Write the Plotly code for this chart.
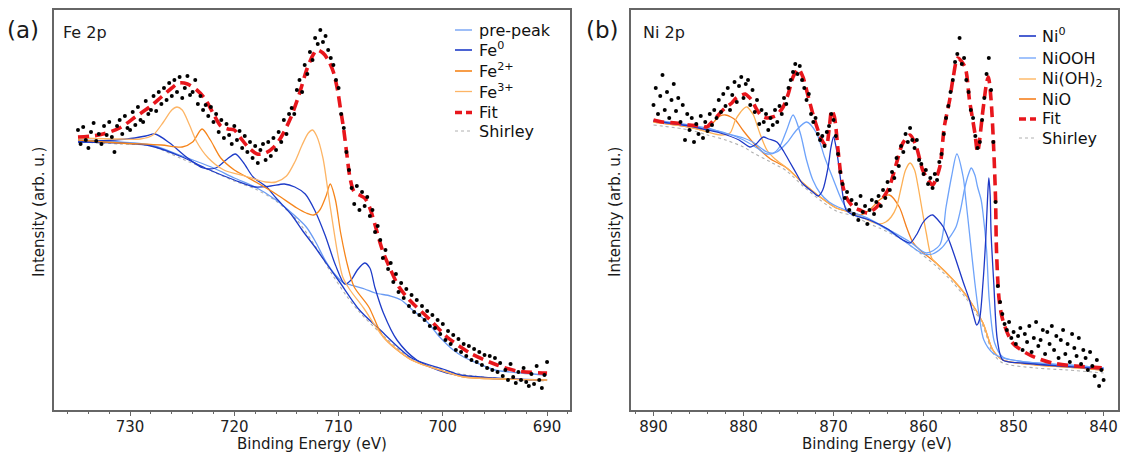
import plotly.graph_objects as go

# ---------------- Fe 2p (panel a) ----------------
fe_energy = [
    735.0, 734.75, 734.5, 734.25, 734.0, 733.75, 733.5, 733.25, 733.0, 732.75, 732.5, 732.25,
    732.0, 731.75, 731.5, 731.25, 731.0, 730.75, 730.5, 730.25, 730.0, 729.75, 729.5, 729.25,
    729.0, 728.75, 728.5, 728.25, 728.0, 727.75, 727.5, 727.25, 727.0, 726.75, 726.5, 726.25,
    726.0, 725.75, 725.5, 725.25, 725.0, 724.75, 724.5, 724.25, 724.0, 723.75, 723.5, 723.25,
    723.0, 722.75, 722.5, 722.25, 722.0, 721.75, 721.5, 721.25, 721.0, 720.75, 720.5, 720.25,
    720.0, 719.75, 719.5, 719.25, 719.0, 718.75, 718.5, 718.25, 718.0, 717.75, 717.5, 717.25,
    717.0, 716.75, 716.5, 716.25, 716.0, 715.75, 715.5, 715.25, 715.0, 714.75, 714.5, 714.25,
    714.0, 713.75, 713.5, 713.25, 713.0, 712.75, 712.5, 712.25, 712.0, 711.75, 711.5, 711.25,
    711.0, 710.75, 710.5, 710.25, 710.0, 709.75, 709.5, 709.25, 709.0, 708.75, 708.5, 708.25,
    708.0, 707.75, 707.5, 707.25, 707.0, 706.75, 706.5, 706.25, 706.0, 705.75, 705.5, 705.25,
    705.0, 704.75, 704.5, 704.25, 704.0, 703.75, 703.5, 703.25, 703.0, 702.75, 702.5, 702.25,
    702.0, 701.75, 701.5, 701.25, 701.0, 700.75, 700.5, 700.25, 700.0, 699.75, 699.5, 699.25,
    699.0, 698.75, 698.5, 698.25, 698.0, 697.75, 697.5, 697.25, 697.0, 696.75, 696.5, 696.25,
    696.0, 695.75, 695.5, 695.25, 695.0, 694.75, 694.5, 694.25, 694.0, 693.75, 693.5, 693.25,
    693.0, 692.75, 692.5, 692.25, 692.0, 691.75, 691.5, 691.25, 691.0, 690.75, 690.5, 690.25,
    690.0,
]
fe_counts = [
    280, 266, 283, 270, 262, 278, 287, 269, 276, 266, 284, 275,
    288, 273, 258, 284, 290, 276, 294, 282, 280, 298, 285, 303,
    290, 288, 309, 296, 300, 314, 299, 318, 306, 322, 310, 327,
    314, 330, 318, 333, 312, 322, 334, 315, 318, 330, 306, 314,
    300, 305, 294, 303, 288, 296, 278, 290, 272, 286, 275, 266,
    284, 270, 279, 262, 274, 258, 268, 252, 264, 247, 260, 266,
    250, 268, 254, 272, 260, 278, 268, 290, 276, 296, 302, 296,
    320, 330, 318, 345, 336, 358, 350, 372, 366, 380, 368, 374,
    360, 352, 345, 330, 322, 296, 282, 258, 240, 222, 206, 224,
    200, 218, 204, 213, 194, 200, 178, 184, 170, 152, 160, 141,
    147, 128, 136, 118, 127, 112, 121, 104, 115, 98, 110, 95,
    104, 90, 99, 84, 95, 82, 90, 76, 86, 70, 79, 66,
    75, 60, 71, 58, 66, 54, 64, 50, 61, 48, 58, 45,
    55, 42, 54, 40, 52, 38, 47, 34, 40, 30, 46, 33,
    27, 38, 30, 42, 28, 24, 36, 26, 44, 30, 22, 35,
    48,
]

fe_fit_e = [735, 733, 731, 729.5, 728, 727, 726, 725.3, 724.5, 723.6, 722.8, 722, 721.3, 720.6,
            720, 719.4, 718.6, 717.8, 717, 716.2, 715.5, 714.6, 713.8, 713, 712.4, 712.1, 711.5,
            711, 710.5, 710.1, 709.8, 709.5, 709.2, 708.9, 708.5, 708, 707.5, 707, 706.5, 705.8,
            705, 704.2, 703.2, 701.2, 699.6, 697.4, 694.8, 692.9, 690]
fe_fit_v = [273, 275, 282, 293, 304, 313, 322, 327, 326, 320, 311, 296, 284, 281,
            280, 272, 262, 256, 257, 263, 273, 292, 315, 342, 356, 360, 357,
            350, 338, 320, 300, 280, 255, 232, 218, 215, 212, 202, 185, 160,
            140, 123, 110, 90, 73, 57, 45, 39, 37]

fe_shirley_e = [735, 731, 728, 725, 722, 720, 718, 716, 714, 712, 710.7, 709.3, 708, 706, 703,
                700, 697, 694, 690]
fe_shirley_v = [268, 266, 264, 251, 238, 229, 221, 209, 190, 160, 137, 115, 98, 77, 51,
                40, 34, 31, 29]

prepeak_e = [735, 731, 728, 725, 722, 720, 718, 716, 714.5, 713.1, 712.2, 711.3, 710.3, 709.5,
             708.8, 707.5, 706.5, 705, 704, 702.9, 701.5, 700.3, 699, 698, 696.5, 695, 692.5, 690]
prepeak_v = [270, 268, 265, 254, 242, 232, 223, 210, 197, 183, 168, 150, 135, 127,
             125, 121, 117, 114, 110, 100, 88, 73, 60, 53, 46, 40, 37, 35]

fe0_a_e = [735, 730.3, 728.5, 727.6, 726.2, 724.6, 723, 721.8, 720.8, 719.9, 719.1, 718.2, 716.9,
           716, 714.5, 713.5, 712.2, 711.2, 709.9, 708, 706, 703, 700, 698, 694, 690]
fe0_a_v = [268, 271, 274, 276, 267, 253, 242, 242, 250, 256, 247, 233, 223,
           212, 195, 180, 162, 147, 128, 100, 80, 52, 41, 34, 31, 30]

fe0_b_e = [735, 731, 728, 725, 722.8, 720, 718, 716.5, 715.2, 714.2, 713.2, 712.3, 711.3, 710.3,
           709.4, 708.8, 708.2, 707.5, 707, 706.5, 705.7, 704.4, 702.5, 699.6, 695, 690]
fe0_b_v = [268, 267, 264, 253, 242, 230, 223, 224, 226, 223, 216, 200, 175, 145,
           126, 130, 140, 147, 142, 122, 97, 70, 50, 37, 32, 30]

fe2_e = [735, 731, 727, 725, 724, 723.1, 722.3, 721.3, 720, 718.8, 716, 714, 713.1, 712.4,
         711.8, 711.2, 710.8, 710.3, 709.8, 709.1, 708.5, 707.1, 705.7, 703, 700, 698, 694, 690]
fe2_v = [270, 267, 265, 263, 268, 281, 270, 252, 240, 233, 216, 202, 197, 195,
         200, 214, 226, 210, 177, 143, 123, 103, 73, 50, 39, 33, 31, 30]

fe3_e = [735, 731, 729, 727.8, 726.8, 726, 725.5, 725, 724.3, 723.6, 722.5, 721, 719, 717, 716,
         715, 714.2, 713.5, 712.9, 712.5, 712.1, 711.5, 710.9, 710.1, 709.6, 708.9, 707.6, 705.7,
         703, 700, 698, 694, 690]
fe3_v = [272, 271, 271, 275, 288, 300, 303, 300, 285, 268, 252, 240, 234, 228, 228,
         234, 248, 265, 277, 280, 274, 252, 210, 157, 133, 120, 102, 73,
         50, 39, 33, 31, 30]

# ---------------- Ni 2p (panel b) ----------------
ni_energy = [
    890.0, 889.75, 889.5, 889.25, 889.0, 888.75, 888.5, 888.25, 888.0, 887.75, 887.5, 887.25,
    887.0, 886.75, 886.5, 886.25, 886.0, 885.75, 885.5, 885.25, 885.0, 884.75, 884.5, 884.25,
    884.0, 883.75, 883.5, 883.25, 883.0, 882.75, 882.5, 882.25, 882.0, 881.75, 881.5, 881.25,
    881.0, 880.75, 880.5, 880.25, 880.0, 879.75, 879.5, 879.25, 879.0, 878.75, 878.5, 878.25,
    878.0, 877.75, 877.5, 877.25, 877.0, 876.75, 876.5, 876.25, 876.0, 875.75, 875.5, 875.25,
    875.0, 874.75, 874.5, 874.25, 874.0, 873.75, 873.5, 873.25, 873.0, 872.75, 872.5, 872.25,
    872.0, 871.75, 871.5, 871.25, 871.0, 870.75, 870.5, 870.25, 870.0, 869.75, 869.5, 869.25,
    869.0, 868.75, 868.5, 868.25, 868.0, 867.75, 867.5, 867.25, 867.0, 866.75, 866.5, 866.25,
    866.0, 865.75, 865.5, 865.25, 865.0, 864.75, 864.5, 864.25, 864.0, 863.75, 863.5, 863.25,
    863.0, 862.75, 862.5, 862.25, 862.0, 861.75, 861.5, 861.25, 861.0, 860.75, 860.5, 860.25,
    860.0, 859.75, 859.5, 859.25, 859.0, 858.75, 858.5, 858.25, 858.0, 857.75, 857.5, 857.25,
    857.0, 856.75, 856.5, 856.25, 856.0, 855.75, 855.5, 855.25, 855.0, 854.75, 854.5, 854.25,
    854.0, 853.75, 853.5, 853.25, 853.0, 852.75, 852.5, 852.25, 852.0, 851.75, 851.5, 851.25,
    851.0, 850.75, 850.5, 850.25, 850.0, 849.75, 849.5, 849.25, 849.0, 848.75, 848.5, 848.25,
    848.0, 847.75, 847.5, 847.25, 847.0, 846.75, 846.5, 846.25, 846.0, 845.75, 845.5, 845.25,
    845.0, 844.75, 844.5, 844.25, 844.0, 843.75, 843.5, 843.25, 843.0, 842.75, 842.5, 842.25,
    842.0, 841.75, 841.5, 841.25, 841.0, 840.75, 840.5, 840.25, 840.0,
]
ni_counts = [
    305, 322, 296, 314, 335, 300, 318, 292, 310, 326, 299, 312,
    288, 305, 270, 296, 280, 292, 268, 286, 276, 294, 272, 288,
    279, 296, 285, 300, 292, 310, 298, 316, 304, 322, 300, 315,
    328, 308, 324, 333, 312, 326, 330, 305, 320, 298, 310, 286,
    300, 288, 296, 280, 292, 285, 300, 288, 304, 296, 312, 306,
    322, 330, 338, 346, 336, 344, 330, 322, 310, 316, 296, 288,
    292, 276, 270, 274, 264, 278, 284, 296, 290, 274, 256, 238,
    226, 212, 218, 200, 210, 196, 206, 190, 214, 198, 204, 186,
    200, 210, 196, 208, 214, 204, 220, 212, 228, 220, 238, 232,
    252, 244, 264, 258, 276, 268, 282, 270, 262, 270, 250, 246,
    236, 240, 226, 232, 222, 236, 230, 248, 256, 276, 292, 304,
    318, 330, 348, 356, 372, 346, 352, 330, 318, 300, 292, 274,
    262, 268, 290, 312, 336, 352, 320, 268, 208, 124, 108, 96,
    86, 80, 88, 72, 78, 66, 74, 82, 60, 76, 68, 84,
    58, 72, 88, 64, 70, 80, 56, 78, 66, 84, 60, 74,
    52, 70, 80, 56, 66, 48, 76, 62, 54, 72, 46, 60,
    52, 40, 58, 44, 34, 50, 24, 40, 30,
]

ni_fit_e = [890, 889, 887.5, 886, 884.6, 884.1, 883.5, 883, 882.4, 881.9, 881.3, 880.8, 880.2,
            879.8, 879.4, 879.1, 878.5, 878, 877.4, 876.8, 876.3, 875.6, 875, 874.5, 873.9,
            873.4, 872.8, 872.1, 871.3, 870.8, 870.5, 870.2, 869.9, 869.5, 869.1, 868.6, 867.8,
            867.1, 866.2, 865.2, 864.5, 863.8, 863, 862.3, 861.5, 860.8, 860.1, 859.5, 859,
            858.2, 857.7, 857.1, 856.7, 856.2, 855.4, 854.9, 854.3, 854, 853.4, 853, 852.8,
            852.5, 852.2, 852, 851.9, 851.6, 851.2, 850.1, 848.2, 845.7, 843.1, 840]
ni_fit_v = [290, 288, 287, 285, 284, 283, 288, 293, 299, 303, 307, 312, 315,
            316, 313, 310, 300, 294, 292, 293, 295, 303, 317, 333, 341,
            333, 313, 290, 270, 264, 280, 300, 293, 260, 230, 213, 203,
            200, 197, 203, 212, 223, 247, 267, 275, 263, 240, 230, 225,
            243, 283, 310, 333, 352, 343, 310, 277, 258, 300, 327, 333,
            310, 260, 210, 160, 110, 90, 67, 55, 47, 44, 42]

ni_shirley_e = [890, 886, 884, 882, 880, 878.9, 877, 875.2, 873.4, 871.5, 869.7, 867.8, 866,
                864.9, 862.5, 860.4, 858.6, 856.7, 854.9, 853.4, 852.3, 851.2, 847.5, 844, 840]
ni_shirley_v = [285, 280, 275, 270, 263, 257, 248, 239, 224, 210, 199, 194, 186,
                182, 171, 157, 144, 127, 107, 84, 57, 47, 42, 40, 37]

ni0_e = [890, 886, 884, 882.6, 880.5, 879.3, 878.6, 878.2, 877.8, 877.2, 876.3, 875.5, 874.8,
         874.1, 873.5, 872.3, 871.7, 871.2, 870.6, 870.3, 870.0, 869.7, 869.5, 869.1, 868.6,
         867.8, 866, 864, 862.3, 861.5, 860.8, 860.1, 859.5, 859.0, 858.4, 857.8, 857.1, 856.4,
         855.6, 854.9, 854.4, 854.1, 853.8, 853.4, 853.1, 852.9, 852.75, 852.6, 852.5, 852.2,
         851.8, 851.2, 849, 845, 840]
ni0_v = [289, 284, 280, 277, 270, 263, 266, 270, 273, 271, 268, 258, 247,
         236, 227, 218, 214, 220, 243, 262, 273, 262, 250, 223, 200,
         195, 190, 181, 170, 167, 175, 187, 193, 195, 190, 183, 168, 150,
         128, 110, 93, 85, 90, 127, 170, 210, 232, 215, 177, 127,
         70, 50, 47, 44, 41]

niooh_a_e = [890, 886, 884, 882.6, 880, 879, 877.4, 876.7, 876.0, 875.2, 874.5, 873.7, 873.0,
             872.3, 871.5, 870.5, 869.5, 868, 866, 863.8, 861.5, 859.7, 858.2, 857.5, 856.9,
             856.3, 855.6, 855.3, 854.9, 854.3, 853.8, 853.3, 852.3, 851.2, 847.5, 844, 840]
niooh_a_v = [290, 285, 282, 278, 272, 268, 258, 257, 263, 280, 295, 277, 250,
             230, 217, 208, 203, 198, 191, 180, 168, 157, 165, 203, 233,
             256, 233, 210, 177, 127, 93, 70, 57, 52, 47, 45, 42]

niooh_b_e = [890, 886, 884, 882, 880, 878.5, 877.4, 876.3, 875.2, 874.1, 873.0, 871.9, 871.0,
             870.0, 869.1, 868.2, 867, 866, 864, 862, 860, 859, 858, 857.3, 856.4, 855.9, 855.4,
             855.0, 854.7, 854.3, 854.0, 853.6, 853.4, 853.0, 852.7, 852.1, 851.2, 847.5, 844, 840]
niooh_b_v = [289, 284, 281, 277, 270, 262, 256, 258, 267, 280, 288, 277, 253,
             230, 210, 197, 193, 190, 180, 168, 156, 156, 162, 170, 183, 200, 223,
             236, 242, 235, 223, 210, 197, 160, 110, 67, 53, 47, 45, 42]

nioh_e = [890, 886, 884, 882.5, 881.5, 880.9, 880.4, 879.9, 879.6, 879.2, 878.9, 878.5, 878.2,
          877.4, 876.5, 875.2, 873.4, 871.5, 869.7, 867.8, 866, 864.9, 864.2, 863.6, 863.0,
          862.5, 862.0, 861.5, 861.0, 860.6, 860.1, 859.7, 859.1, 858.6, 856.7, 854.9, 853.4,
          852.3, 851.2, 847.5, 844, 840]
nioh_v = [288, 283, 278, 275, 277, 290, 297, 302, 303, 299, 295, 285, 277,
          260, 251, 242, 227, 213, 202, 197, 189, 186, 188, 193, 203,
          222, 240, 247, 240, 223, 197, 177, 152, 147, 130, 110, 87,
          60, 50, 45, 43, 40]

nio_e = [890, 886, 884.5, 883.8, 883.2, 882.6, 882.0, 881.4, 880.9, 880.0, 878.9, 877.8, 877,
         875.2, 873.4, 871.5, 869.7, 867.8, 867.0, 866.0, 864.9, 863.8, 862.7, 861.9, 861.2,
         860.4, 858.6, 856.7, 854.9, 853.4, 852.3, 851.2, 847.5, 844, 840]
nio_v = [288, 283, 280, 283, 289, 294, 295, 293, 290, 279, 267, 257, 251,
         242, 227, 213, 202, 197, 195, 200, 210, 215, 203, 183, 168,
         160, 147, 130, 110, 87, 60, 50, 45, 43, 40]

# legend labels (top to bottom)
fe_legend = ["pre-peak", "Fe<sup>0</sup>", "Fe<sup>2+</sup>", "Fe<sup>3+</sup>", "Fit", "Shirley"]
ni_legend = ["Ni<sup>0</sup>", "NiOOH", "Ni(OH)<sub>2</sub>", "NiO", "Fit", "Shirley"]

# colours
C_PRE = "#6A9BF3"
C_FE0 = "#1E3CC8"
C_FE2 = "#F6851B"
C_FE3 = "#FDB566"
C_FIT = "#E8161C"
C_SHIR = "#B0B0B0"
C_NI0 = "#1E38C6"
C_NIOOH = "#6EA3FA"
C_NIOH = "#FDB055"
C_NIO = "#F5801F"

W, H = 1121, 453


def px_x(px):
    return px / W


def px_y(py):
    # plot area spans 10..410 px from the top
    return (410 - py) / 400


fig = go.Figure()


def add_curve(x, y, color, panel, width=1.3, dash=None):
    xa, ya = ("x", "y") if panel == 1 else ("x2", "y2")
    fig.add_trace(go.Scatter(
        x=x, y=y, mode="lines", xaxis=xa, yaxis=ya, showlegend=False, hoverinfo="skip",
        line=dict(color=color, width=width, dash=dash, shape="spline", smoothing=0.8),
    ))


FIT_DASH = "11px,6px"

# panel a
add_curve(fe_shirley_e, fe_shirley_v, C_SHIR, 1, width=1.1, dash="dot")
add_curve(prepeak_e, prepeak_v, C_PRE, 1)
add_curve(fe0_a_e, fe0_a_v, C_FE0, 1)
add_curve(fe0_b_e, fe0_b_v, C_FE0, 1)
add_curve(fe2_e, fe2_v, C_FE2, 1)
add_curve(fe3_e, fe3_v, C_FE3, 1)
add_curve(fe_fit_e, fe_fit_v, C_FIT, 1, width=3.6, dash=FIT_DASH)
fig.add_trace(go.Scatter(x=fe_energy, y=fe_counts, mode="markers", xaxis="x", yaxis="y",
                         marker=dict(color="black", size=4), showlegend=False, hoverinfo="skip"))

# panel b
add_curve(ni_shirley_e, ni_shirley_v, C_SHIR, 2, width=1.1, dash="dot")
add_curve(nio_e, nio_v, C_NIO, 2)
add_curve(nioh_e, nioh_v, C_NIOH, 2)
add_curve(niooh_a_e, niooh_a_v, C_NIOOH, 2)
add_curve(niooh_b_e, niooh_b_v, C_NIOOH, 2)
add_curve(ni0_e, ni0_v, C_NI0, 2)
add_curve(ni_fit_e, ni_fit_v, C_FIT, 2, width=3.6, dash=FIT_DASH)
fig.add_trace(go.Scatter(x=ni_energy, y=ni_counts, mode="markers", xaxis="x2", yaxis="y2",
                         marker=dict(color="black", size=4), showlegend=False, hoverinfo="skip"))

axis_line = dict(showline=True, linecolor="#666666", linewidth=1.5, mirror=True,
                 showgrid=False, zeroline=False, automargin=False)
xstyle = dict(ticks="outside", ticklen=4, tickwidth=1.2, tickcolor="#666666",
              tickfont=dict(size=15, color="#222222"), ticklabelstandoff=-2,
              minor=dict(dtick=2, ticks="outside", ticklen=2.5, tickwidth=1, tickcolor="#666666"),
              **axis_line)
ystyle = dict(showticklabels=False, ticks="", range=[0, 400], **axis_line)

fig.update_layout(
    width=W, height=H,
    margin=dict(l=0, r=0, t=10, b=43),
    plot_bgcolor="white", paper_bgcolor="white",
    showlegend=False,
    font=dict(family="DejaVu Sans", size=15, color="#222222"),
    xaxis=dict(domain=[px_x(54), px_x(570)], range=[737.3, 687.8], anchor="y",
               tick0=690, dtick=10, **xstyle),
    yaxis=dict(domain=[0, 1], anchor="x", **ystyle),
    xaxis2=dict(domain=[px_x(631), px_x(1118)], range=[892.5, 838.4], anchor="y2",
                tick0=840, dtick=10, **xstyle),
    yaxis2=dict(domain=[0, 1], anchor="x2", **ystyle),
)

# hand-built legends: (colour, width, dash)
fe_styles = [(C_PRE, 1.3, "solid"), (C_FE0, 1.6, "solid"), (C_FE2, 1.6, "solid"),
             (C_FE3, 1.3, "solid"), (C_FIT, 3.6, "7px,4px"), (C_SHIR, 1.0, "dot")]
ni_styles = [(C_NI0, 1.6, "solid"), (C_NIOOH, 1.3, "solid"), (C_NIOH, 1.3, "solid"),
             (C_NIO, 1.6, "solid"), (C_FIT, 3.6, "7px,4px"), (C_SHIR, 1.0, "dot")]
fe_rows = [30, 50, 71, 91.5, 112.5, 131]
ni_rows = [36, 58, 79, 99, 119, 138]


def draw_legend(labels, styles, rows, x0, x1, xt):
    for label, (color, width, dash), row in zip(labels, styles, rows):
        fig.add_shape(type="line", xref="paper", yref="paper",
                      x0=px_x(x0), x1=px_x(x1), y0=px_y(row), y1=px_y(row),
                      line=dict(color=color, width=width, dash=dash))
        fig.add_annotation(text=label, x=px_x(xt), y=px_y(row), xref="paper", yref="paper",
                           xanchor="left", yanchor="middle", showarrow=False,
                           font=dict(size=16, color="#111111"))


draw_legend(fe_legend, fe_styles, fe_rows, 455, 472, 477)
draw_legend(ni_legend, ni_styles, ni_rows, 1019, 1036, 1040)

texts = [
    ("(a)", 23, 30, 23, "center", 0),
    ("(b)", 602, 30, 23, "center", 0),
    ("Fe 2p", 61, 32, 16, "left", 0),
    ("Ni 2p", 641, 32, 16, "left", 0),
    ("Intensity (arb. u.)", 39, 212, 15, "center", -90),
    ("Intensity (arb. u.)", 615, 212, 15, "center", -90),
    ("Binding Energy (eV)", 312, 444, 15, "center", 0),
    ("Binding Energy (eV)", 877, 444, 15, "center", 0),
]
for txt, x, y, size, anchor, angle in texts:
    fig.add_annotation(text=txt, x=px_x(x), y=px_y(y), xref="paper", yref="paper",
                       xanchor=anchor, yanchor="middle", showarrow=False, textangle=angle,
                       font=dict(size=size, color="#1a1a1a"))

# drop the browser's default page margin so the figure sits at the window origin
fig.write_html("out.html", config={"displayModeBar": False},
               post_script="document.body.style.margin='0';")
